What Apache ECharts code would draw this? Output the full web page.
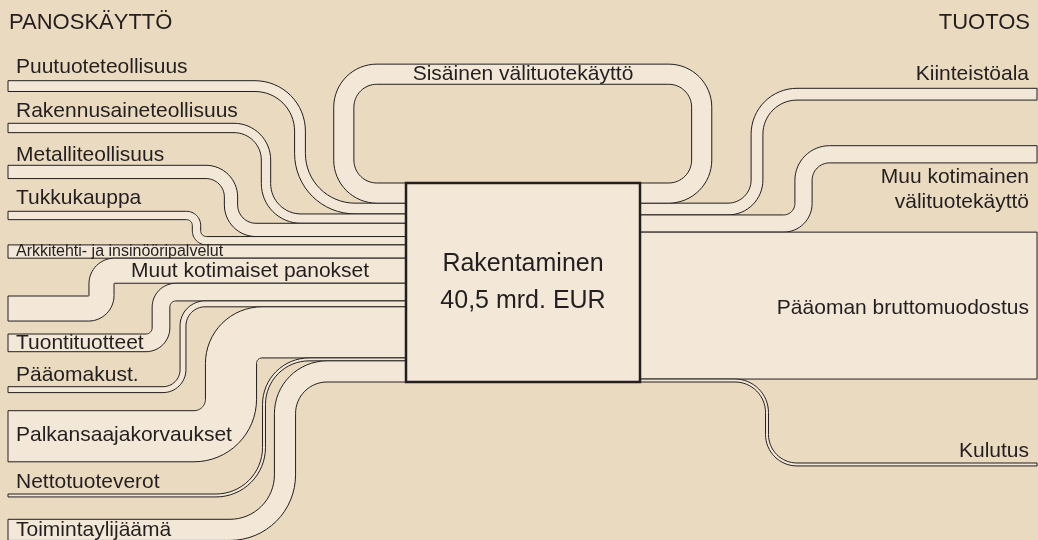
<!DOCTYPE html>
<html>
<head>
<meta charset="utf-8">
<script src="https://cdn.jsdelivr.net/npm/echarts@6/dist/echarts.min.js"></script>
<style>
  html, body { margin: 0; padding: 0; background: #eadabf; }
  #chart { width: 1038px; height: 540px; }
</style>
</head>
<body>
<div id="chart"></div>
<script>
// values in mrd. EUR
const producerName = 'Rakentaminen';
const totalOutput = 40.5;
const internalName = 'Sisäinen välituotekäyttö';
const internalUse = 4.1;
const inputNames = ['Puutuoteteollisuus', 'Rakennusaineteollisuus', 'Metalliteollisuus', 'Tukkukauppa',
  'Arkkitehti- ja insinööripalvelut', 'Muut kotimaiset panokset', 'Tuontituotteet', 'Pääomakust.',
  'Palkansaajakorvaukset', 'Nettotuoteverot', 'Toimintaylijäämä'];
const inputValues = [2.2, 1.9, 2.7, 1.7, 2.7, 5.1, 3.6, 1.2, 10.4, 0.6, 4.3];
const outputNames = ['Kiinteistöala', 'Muu kotimainen\nvälituotekäyttö', 'Pääoman bruttomuodostus', 'Kulutus'];
const outputValues = [2.4, 3.5, 29.9, 0.6];

// layout (pixels)
const BOX_X0 = 406, BOX_X1 = 640, BOX_TOP = 183, BOX_H = 199;
const LEFT_X = 8, RIGHT_X = 1037;
const inputStartY = [80.7, 123.3, 165.3, 211.3, null, 296, 334, 386.7, 410.7, 494, 519.3];
const inputTurnX = [300, 266, 231, 196.5, null, 101.5, 161, 183, 231, 264, 285];
const inputRadius = [[45, 55], [32, 35], [25, 25], [10, 10], null, [13, 13], [15, 15], [20, 22], [37, 31], [48, 45], [55, 42]];
const inputLabelPos = [[16, 67], [16, 111], [16, 155], [16, 198], [16, 252], [131, 271], [16, 343], [16, 375], [16, 435], [16, 482], [16, 530]];
const outputEndY = [88.3, 145.7, null, 463];
const outputTurnX = [757, 803.5, null, 767];
const outputRadius = [[29, 40], [20, 26], null, [32, 30]];
const outputLabelY = [74, 189.5, 308, 451];
const loopLayout = { xl: 343.8, xr: 701.7, yt: 74.2, r: 33 };

const BG = '#eadabf';
const BAND = '#f3e8d7';
const INK = '#231f20';
const FONT = '"Liberation Sans", Arial, sans-serif';

// polyline with rounded (quarter circle) corners, sampled to points
function roundedLine(vertices, radii) {
  const pts = [vertices[0]];
  for (let i = 1; i < vertices.length - 1; i++) {
    const P = vertices[i - 1], V = vertices[i], N = vertices[i + 1];
    const r = Math.max(0, radii[i - 1]);
    const l1 = Math.hypot(V[0] - P[0], V[1] - P[1]) || 1;
    const l2 = Math.hypot(N[0] - V[0], N[1] - V[1]) || 1;
    const u1 = [(V[0] - P[0]) / l1, (V[1] - P[1]) / l1];
    const u2 = [(N[0] - V[0]) / l2, (N[1] - V[1]) / l2];
    const C = [V[0] - u1[0] * r + u2[0] * r, V[1] - u1[1] * r + u2[1] * r];
    for (let k = 0; k <= 16; k++) {
      const a = k / 16 * Math.PI / 2;
      pts.push([
        C[0] - u2[0] * r * Math.cos(a) + u1[0] * r * Math.sin(a),
        C[1] - u2[1] * r * Math.cos(a) + u1[1] * r * Math.sin(a)
      ]);
    }
  }
  pts.push(vertices[vertices.length - 1]);
  return pts;
}

// band going east from (xa, ya) to (xb, yb), top y given, width w
function flowBand(xa, ya, xb, yb, w, xv, R) {
  if (xv == null) {
    return [[xa, ya], [xb, yb], [xb, yb + w], [xa, ya + w]];
  }
  const sg = yb > ya ? 1 : -1;
  const edge = d => roundedLine(
    [[xa, ya + w / 2 + d], [xv - sg * d, ya + w / 2 + d], [xv - sg * d, yb + w / 2 + d], [xb, yb + w / 2 + d]],
    [R[0] - sg * d, R[1] + sg * d]);
  return edge(-w / 2).concat(edge(w / 2).reverse());
}

function bandStyle() {
  return { fill: BAND, stroke: INK, lineWidth: 1 };
}

function text(str, x, y, size, align) {
  return {
    type: 'text',
    style: {
      text: str, x: x, y: y, fill: INK,
      font: size + 'px ' + FONT,
      textAlign: align || 'left', textVerticalAlign: 'middle',
      lineHeight: 25
    }
  };
}

const sum = (arr, n) => arr.slice(0, n).reduce((a, b) => a + b, 0);

const chart = echarts.init(document.getElementById('chart'));

const option = {
  backgroundColor: BG,
  animation: false,
  title: [
    { text: 'PANOSKÄYTTÖ', left: 9, top: 12, padding: 0, textStyle: { fontFamily: FONT, fontSize: 22, fontWeight: 'normal', color: INK } },
    { text: 'TUOTOS', right: 8, top: 12, padding: 0, textStyle: { fontFamily: FONT, fontSize: 22, fontWeight: 'normal', color: INK } }
  ],
  grid: { left: 0, right: 0, top: BOX_TOP, height: BOX_H },
  xAxis: { type: 'value', min: 0, max: 1038, show: false },
  yAxis: { type: 'value', min: 0, max: totalOutput, inverse: true, show: false },
  series: [
    {
      type: 'custom',
      name: 'Panokset',
      silent: true,
      data: inputValues.map((v, i) => ({ name: inputNames[i], value: [i, v] })),
      renderItem: function (params, api) {
        const i = params.dataIndex;
        const v = api.value(1);
        const w = api.size([0, v])[1];
        const yb = api.coord([0, internalUse + sum(inputValues, i)])[1];
        const ya = inputStartY[i] == null ? yb : inputStartY[i];
        const pts = flowBand(LEFT_X, ya, BOX_X0, yb, w, inputTurnX[i], inputRadius[i]);
        const small = i === 4;
        return {
          type: 'group',
          children: [
            { type: 'polygon', shape: { points: pts }, style: bandStyle() },
            text(inputNames[i], inputLabelPos[i][0], inputLabelPos[i][1], small ? 16 : 21)
          ]
        };
      }
    },
    {
      type: 'custom',
      name: 'Tuotos',
      silent: true,
      data: outputValues.map((v, i) => ({ name: outputNames[i], value: [i, v] })),
      renderItem: function (params, api) {
        const i = params.dataIndex;
        const v = api.value(1);
        const w = api.size([0, v])[1];
        const ya = api.coord([0, internalUse + sum(outputValues, i)])[1];
        const yb = outputEndY[i] == null ? ya : outputEndY[i];
        const pts = flowBand(BOX_X1, ya, RIGHT_X, yb, w, outputTurnX[i], outputRadius[i]);
        return {
          type: 'group',
          children: [
            { type: 'polygon', shape: { points: pts }, style: bandStyle() },
            text(outputNames[i], 1029, outputLabelY[i], 21, 'right')
          ]
        };
      }
    },
    {
      type: 'custom',
      name: producerName,
      silent: true,
      data: [[0, internalUse, totalOutput]],
      renderItem: function (params, api) {
        const w = api.size([0, api.value(1)])[1];
        const top = api.coord([0, 0])[1];
        const bottom = api.coord([0, api.value(2)])[1];
        const L = loopLayout;
        const outer = roundedLine(
          [[BOX_X1, top + w], [L.xr + w / 2, top + w], [L.xr + w / 2, L.yt - w / 2],
           [L.xl - w / 2, L.yt - w / 2], [L.xl - w / 2, top + w], [BOX_X0, top + w]],
          [L.r + w / 2, L.r + w / 2, L.r + w / 2, L.r + w / 2]);
        const inner = roundedLine(
          [[BOX_X1, top], [L.xr - w / 2, top], [L.xr - w / 2, L.yt + w / 2],
           [L.xl + w / 2, L.yt + w / 2], [L.xl + w / 2, top], [BOX_X0, top]],
          [L.r - w / 2, L.r - w / 2, L.r - w / 2, L.r - w / 2]);
        const cx = (BOX_X0 + BOX_X1) / 2;
        const total = api.value(2).toFixed(1).replace('.', ',') + ' mrd. EUR';
        return {
          type: 'group',
          children: [
            { type: 'polygon', shape: { points: outer.concat(inner.reverse()) }, style: bandStyle() },
            text(internalName, cx, L.yt, 21, 'center'),
            {
              type: 'rect',
              shape: { x: BOX_X0, y: top, width: BOX_X1 - BOX_X0, height: bottom - top },
              style: { fill: BAND, stroke: INK, lineWidth: 2.5 }
            },
            text(producerName, cx, (top + bottom) / 2 - 18, 25, 'center'),
            text(total, cx, (top + bottom) / 2 + 19, 25, 'center')
          ]
        };
      }
    }
  ]
};

chart.setOption(option);
window.addEventListener('resize', function () {
  chart.resize();
});
</script>
</body>
</html>
